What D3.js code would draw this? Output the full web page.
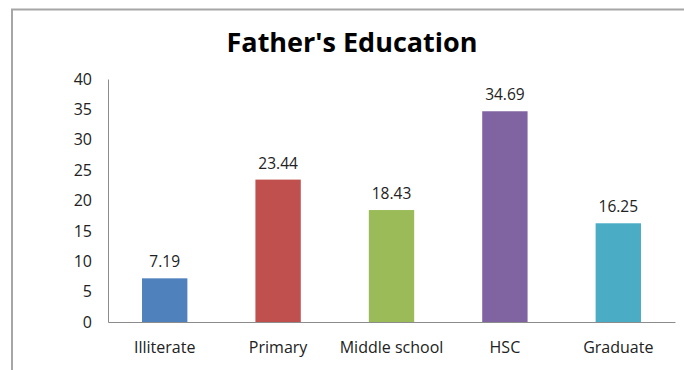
<!DOCTYPE html>
<html>
<head>
<meta charset="utf-8">
<script src="https://cdn.jsdelivr.net/npm/d3@7"></script>
<style>
  body { margin: 0; background: #fff; }
  text { font-family: "Open Sans", sans-serif; fill: #222; }
</style>
</head>
<body>
<div id="chart"></div>
<script>
// chart data
var categories = ["Illiterate", "Primary", "Middle school", "HSC", "Graduate"];
var values = [7.19, 23.44, 18.43, 34.69, 16.25];
var barColors = ["#4F81BD", "#C0504D", "#9BBB59", "#8064A2", "#4BACC6"];
var yTicks = [0, 5, 10, 15, 20, 25, 30, 35, 40];
var chartTitle = "Father's Education";

var svgWidth = 684, svgHeight = 370;
var margin = { top: 79, right: 9, bottom: 48, left: 108 };
var width = svgWidth - margin.left - margin.right;
var height = svgHeight - margin.top - margin.bottom;

var svg = d3.select("#chart").append("svg")
    .attr("width", svgWidth)
    .attr("height", svgHeight);

// outer frame (bottom and right edges fall outside the picture)
svg.append("rect")
    .attr("x", 12).attr("y", 9.5)
    .attr("width", 700).attr("height", 400)
    .attr("fill", "none")
    .attr("stroke", "#a6a6a6")
    .attr("stroke-width", 2);

svg.append("text")
    .attr("x", 352).attr("y", 52)
    .attr("text-anchor", "middle")
    .style("font-size", "27px")
    .style("font-weight", "bold")
    .style("fill", "#000")
    .text(chartTitle);

var chartGroup = svg.append("g")
    .attr("transform", `translate(${margin.left}, ${margin.top})`);

var xScale = d3.scaleBand()
    .domain(categories)
    .range([0, width])
    .paddingInner(0.6)
    .paddingOuter(0.3);

var yScale = d3.scaleLinear()
    .domain([0, 40])
    .range([height, 0]);

// y axis
var leftAxis = d3.axisLeft(yScale).tickValues(yTicks).tickSize(0).tickPadding(16);
var yAxis = chartGroup.append("g").call(leftAxis);
yAxis.select(".domain").attr("stroke", "#8c8c8c");
yAxis.selectAll("text")
    .style("font-size", "16px")
    .style("font-family", "'Open Sans', sans-serif")
    .attr("fill", "#222");

// bars
chartGroup.selectAll(".bar")
    .data(values)
    .enter()
    .append("rect")
    .attr("class", "bar")
    .attr("x", (d, i) => xScale(categories[i]))
    .attr("y", d => yScale(d))
    .attr("width", xScale.bandwidth())
    .attr("height", d => height - yScale(d))
    .attr("fill", (d, i) => barColors[i]);

// value labels
chartGroup.selectAll(".val")
    .data(values)
    .enter()
    .append("text")
    .attr("class", "val")
    .attr("x", (d, i) => xScale(categories[i]) + xScale.bandwidth() / 2)
    .attr("y", d => yScale(d) - 11)
    .attr("text-anchor", "middle")
    .style("font-size", "15.5px")
    .text(d => d.toFixed(2));

// x axis
var bottomAxis = d3.axisBottom(xScale).tickSize(0).tickPadding(20);
var xAxis = chartGroup.append("g")
    .attr("transform", `translate(0, ${height})`)
    .call(bottomAxis);
xAxis.select(".domain").attr("stroke", "#8c8c8c");
xAxis.selectAll("text")
    .style("font-size", "16px")
    .style("font-family", "'Open Sans', sans-serif")
    .attr("fill", "#222");
</script>
</body>
</html>
